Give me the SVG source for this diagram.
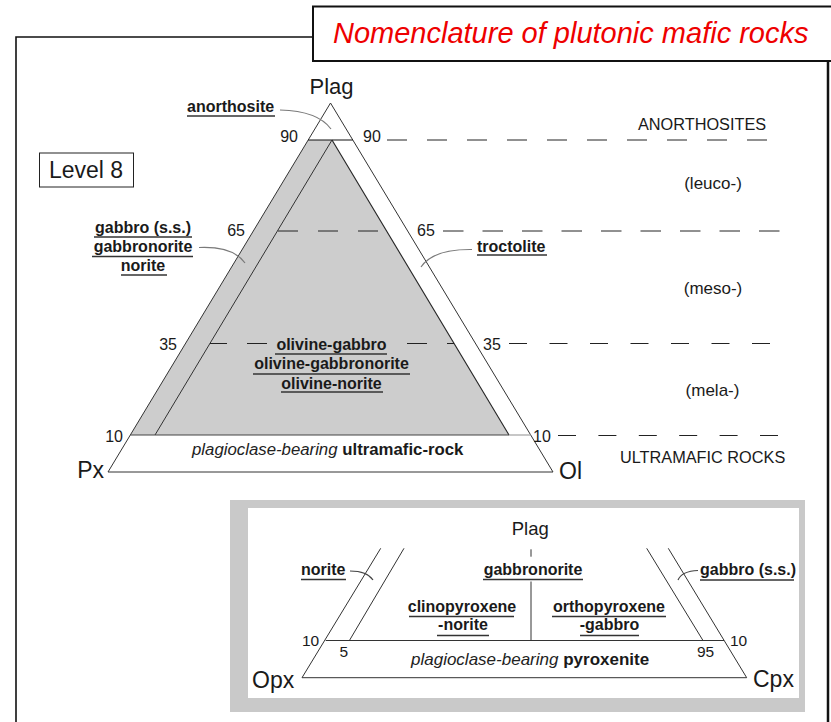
<svg xmlns="http://www.w3.org/2000/svg" width="831" height="722" viewBox="0 0 831 722">
<style>
text{font-family:"Liberation Sans",Arial,Helvetica,sans-serif;fill:#1a1a1a}
.lab{font-size:16px;font-weight:bold}
.num{font-size:16px}
.snum{font-size:15.5px}
.cap{font-size:16.3px}
.par{font-size:17px}
.big{font-size:23px}
.ul{stroke:#333;stroke-width:1.3;fill:none}
.edge{stroke:#333;stroke-width:1;fill:none}
.dash{stroke:#222;stroke-width:1;fill:none;stroke-dasharray:20 20}
.lead{stroke:#7a7a7a;stroke-width:1.2;fill:none}
</style>
<rect width="831" height="722" fill="#fff"/>

<g id="frame">
  <path d="M16,722 V37 H313" fill="none" stroke="#111" stroke-width="1.6"/>
  <path d="M828,60 V722" fill="none" stroke="#111" stroke-width="2.5"/>
</g>

<g id="title">
  <rect x="313" y="6.5" width="540" height="54.5" fill="#fff" stroke="#111" stroke-width="2"/>
  <text x="333" y="43" style="font-size:29px;font-style:italic;fill:#ee0000">Nomenclature of plutonic mafic rocks</text>
</g>

<g id="level">
  <rect x="39.5" y="153" width="94" height="34" fill="#fff" stroke="#222" stroke-width="1"/>
  <text x="49" y="178" class="big">Level 8</text>
</g>

<g id="main-triangle">
  <polygon points="308.2,140 332,140 509,435 130.3,435" fill="#cdcdcd"/>
  <polygon points="330.5,103 108,472 553,472" class="edge"/>
  <line x1="308.2" y1="140" x2="352.8" y2="140" stroke="#111" stroke-width="1.2"/>
  <line x1="332" y1="140" x2="155" y2="435" class="edge"/>
  <line x1="332" y1="140" x2="509" y2="435" stroke="#222" stroke-width="1.1"/>
  <line x1="130.3" y1="435" x2="509" y2="435" stroke="#444" stroke-width="1.1"/>
  <line x1="509" y1="435" x2="531" y2="435" stroke="#999" stroke-width="1.1"/>
  <text x="331.5" y="94" text-anchor="middle" style="font-size:22px">Plag</text>
  <text x="104" y="478" text-anchor="end" class="big">Px</text>
  <text x="559" y="479" class="big">Ol</text>
  <text x="298" y="142" text-anchor="end" class="num">90</text>
  <text x="363" y="142" class="num">90</text>
  <text x="245" y="235.5" text-anchor="end" class="num">65</text>
  <text x="417" y="235.5" class="num">65</text>
  <text x="177" y="350" text-anchor="end" class="num">35</text>
  <text x="483" y="350" class="num">35</text>
  <text x="123" y="442" text-anchor="end" class="num">10</text>
  <text x="533" y="442" class="num">10</text>
  <text x="192" y="455" style="font-size:16.8px"><tspan font-style="italic" fill="#222">plagioclase-bearing</tspan> <tspan font-weight="bold">ultramafic-rock</tspan></text>
</g>

<g id="label-anorthosite">
  <text x="187" y="112" class="lab">anorthosite</text>
  <line x1="187" y1="116" x2="275" y2="116" class="ul"/>
</g>

<g id="label-gabbro">
  <text x="143" y="233" text-anchor="middle" class="lab">gabbro (s.s.)</text>
  <line x1="94" y1="237" x2="192" y2="237" class="ul"/>
  <text x="143" y="252" text-anchor="middle" class="lab">gabbronorite</text>
  <line x1="92" y1="256.5" x2="193" y2="256.5" class="ul"/>
  <text x="143" y="271" text-anchor="middle" class="lab">norite</text>
  <line x1="121" y1="275" x2="167" y2="275" class="ul"/>
</g>

<g id="label-troctolite">
  <text x="477" y="251.5" class="lab">troctolite</text>
  <line x1="477" y1="255" x2="547" y2="255" class="ul"/>
</g>

<g id="label-olivine">
  <text x="331.5" y="349.5" text-anchor="middle" class="lab">olivine-gabbro</text>
  <line x1="275" y1="354" x2="387" y2="354" class="ul"/>
  <text x="331.5" y="369" text-anchor="middle" class="lab">olivine-gabbronorite</text>
  <line x1="253" y1="374" x2="410" y2="374" class="ul"/>
  <text x="331.5" y="388.5" text-anchor="middle" class="lab">olivine-norite</text>
  <line x1="281" y1="392" x2="383" y2="392" class="ul"/>
</g>

<g id="right-labels">
  <text x="638" y="130" class="cap">ANORTHOSITES</text>
  <text x="713" y="189" text-anchor="middle" class="par">(leuco-)</text>
  <text x="713" y="294" text-anchor="middle" class="par">(meso-)</text>
  <text x="712.5" y="396" text-anchor="middle" class="par">(mela-)</text>
  <text x="620" y="463" class="cap">ULTRAMAFIC ROCKS</text>
</g>

<g id="pyroxene-panel">
  <rect x="230" y="500" width="575" height="212" fill="#c9c9c9"/>
  <rect x="248" y="508" width="551" height="190" fill="#fff"/>
  <path d="M302,677.7 L380.7,548.3 M349.3,640.7 L404,548.3 M702.7,640 L646.7,548.3 M746.7,677.7 L668.3,548.3 M325.7,640.5 H724 M302,677.7 H746.7 M531,581.5 V640.5 M531,549.3 V556.7" class="edge"/>
  <text x="511.7" y="535" style="font-size:18.5px">Plag</text>
  <text x="252" y="688" class="big">Opx</text>
  <text x="753" y="687" class="big">Cpx</text>
  <text x="302" y="645.5" class="snum">10</text>
  <text x="339.5" y="656.5" class="snum">5</text>
  <text x="697" y="656.5" class="snum">95</text>
  <text x="730" y="645.5" class="snum">10</text>
  <text x="301" y="575" class="lab">norite</text>
  <line x1="301" y1="579.5" x2="346" y2="579.5" class="ul"/>
  <text x="533" y="575" text-anchor="middle" class="lab">gabbronorite</text>
  <line x1="483" y1="579.5" x2="583" y2="579.5" class="ul"/>
  <text x="700" y="575" class="lab">gabbro (s.s.)</text>
  <line x1="700" y1="580" x2="794" y2="580" class="ul"/>
  <text x="462" y="611.7" text-anchor="middle" class="lab">clinopyroxene</text>
  <line x1="409" y1="616.5" x2="514" y2="616.5" class="ul"/>
  <text x="463" y="630" text-anchor="middle" class="lab">-norite</text>
  <line x1="437" y1="635.5" x2="489" y2="635.5" class="ul"/>
  <text x="609" y="611.7" text-anchor="middle" class="lab">orthopyroxene</text>
  <line x1="552" y1="616.5" x2="666" y2="616.5" class="ul"/>
  <text x="609.5" y="630" text-anchor="middle" class="lab">-gabbro</text>
  <line x1="580" y1="635.5" x2="639" y2="635.5" class="ul"/>
  <text x="411" y="665" style="font-size:17px"><tspan font-style="italic" fill="#222">plagioclase-bearing</tspan> <tspan font-weight="bold">pyroxenite</tspan></text>
</g>

<g id="connectors">
  <path d="M387,140 H767" class="dash"/>
  <path d="M278,231 H386" class="dash"/>
  <path d="M443,231 H780" class="dash" style="stroke-dasharray:20.5 19"/>
  <path d="M210,343.5 H227 M247,343.5 H267 M407,343.5 H427 M447,343.5 H454" stroke="#222" stroke-width="1"/>
  <path d="M509,343.5 H771" class="dash" style="stroke-dasharray:18 22.5"/>
  <path d="M558,435.5 H778" class="dash" style="stroke-dasharray:18 22.4"/>
  <path d="M280,110 Q318,111 331,129" class="lead"/>
  <path d="M199,247.5 Q233,246 245,263" class="lead"/>
  <path d="M472,249.5 Q433,249 421,267" class="lead"/>
  <path d="M350,571 Q367,571 373,580" class="lead" style="stroke:#444"/>
  <path d="M698,570.5 Q682,571 678,580" class="lead" style="stroke:#444"/>
</g>
</svg>
